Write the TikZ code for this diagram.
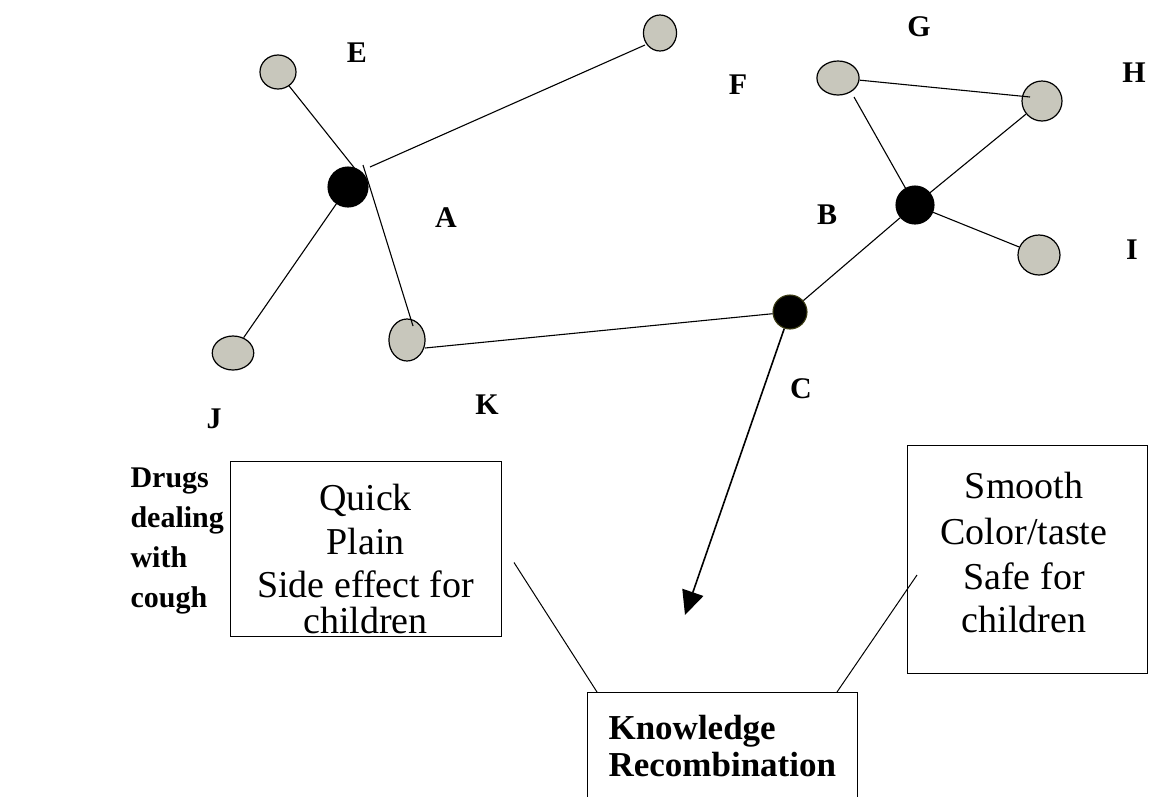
\documentclass[tikz,border=0pt]{standalone}
\usepackage{fontspec}
\setmainfont{Liberation Serif}
\usetikzlibrary{arrows.meta}
\definecolor{nodegray}{RGB}{200,199,188}
\definecolor{olive}{RGB}{60,60,20}
\begin{document}
\begin{tikzpicture}[x=1pt,y=-1pt,
  every path/.style={line width=1.1pt},
  grayn/.style={draw=black, fill=nodegray, shape=circle, inner sep=0pt, line width=1.2pt},
  hub/.style={circle, fill=black, draw=black, inner sep=0pt},
  lbl/.style={font=\fontsize{30}{32}\selectfont\bfseries, inner sep=0pt},
  box/.style={draw=black, line width=1pt, inner sep=0pt},
  boxtext/.style={font=\fontsize{38}{44}\selectfont, align=center, inner sep=0pt},
  krtext/.style={font=\fontsize{35}{37}\selectfont\bfseries, align=left, anchor=base west, inner sep=0pt},
]
\useasboundingbox (0,0) rectangle (1160,796);
% gray nodes
\node[grayn, minimum size=34pt, xscale=1.06] (E) at (278,72) {};
\node[grayn, minimum size=36pt, xscale=0.92] (F) at (660,33) {};
\node[grayn, minimum size=34pt, xscale=1.22] (J) at (233,353) {};
\node[grayn, minimum size=42pt, xscale=0.86] (K) at (407,340) {};
\node[grayn, minimum size=34pt, xscale=1.24] (G) at (838,78) {};
\node[grayn, minimum size=40pt] (H) at (1042,101) {};
\node[grayn, minimum size=40pt, xscale=1.05] (I) at (1039,255) {};
\node[hub, minimum size=40pt] (A) at (348,187) {};
\node[hub, minimum size=38pt] (B) at (915,205) {};
\node[hub, draw=olive, minimum size=34pt] (C) at (790,312) {};

% labels
\node[lbl] (lE) at (357,53) {E};
\node[lbl] (lF) at (738,85) {F};
\node[lbl] (lA) at (446,218) {A};
\node[lbl] (lB) at (827,215) {B};
\node[lbl] (lG) at (919,27) {G};
\node[lbl] (lH) at (1134,73) {H};
\node[lbl] (lI) at (1132,250) {I};
\node[lbl] (lJ) at (214,419) {J};
\node[lbl] (lK) at (487,405) {K};
\node[lbl] (lC) at (801,389) {C};

% edges
\draw (E) -- ([shift={(8,-17)}]A.center);
\draw ([shift={(22,-20)}]A.center) -- ([shift={(-15,12)}]F.center);
\draw ([shift={(15,-22)}]A.center) -- ([shift={(6,-14)}]K.center);
\draw (A) -- (J);
\draw ([shift={(18,8)}]K.center) -- (C);
\draw (C) -- (B);
\draw (B) -- ([shift={(16,19)}]G.center);
\draw (G) -- ([shift={(-12,-4)}]H.center);
\draw (B) -- (H);
\draw (B) -- (I);
\coordinate (tip) at (685,615);
\draw[-{Triangle[length=24pt,width=22pt]}, line width=1.6pt] (C) -- (tip);

% boxes
\draw[box] (230,461) rectangle (501,636);
\node[boxtext] (Lbox) at (365.5,548.5) {};
\node[boxtext, anchor=base] (q) at (365.5,510) {Quick};
\node[boxtext, anchor=base] (p) at (365.5,554) {Plain};
\node[boxtext, anchor=base] (s) at (365.5,597) {Side effect for};
\node[boxtext, anchor=base] (c1) at (365.5,633) {children};

\draw[box] (907,445) rectangle (1147,673);
\node[boxtext] (Rbox) at (1027,559) {};
\node[boxtext, anchor=base] (sm) at (1024,498) {Smooth};
\node[boxtext, anchor=base] (ct) at (1024,544) {Color/taste};
\node[boxtext, anchor=base] (sf) at (1024,589) {Safe for};
\node[boxtext, anchor=base] (c2) at (1024,632) {children};

\draw[box] (587,692) rectangle (857,810);
\node[inner sep=0pt] (KR) at (722,692) {};
\node[krtext] (kn) at (608,739) {Knowledge};
\node[krtext] (rc) at (608,776) {Recombination};

\draw[line width=1pt] ([shift={(148.5,14)}]Lbox.center) -- ([shift={(-125,0)}]KR.center);
\draw[line width=1pt] ([shift={(-110,16)}]Rbox.center) -- ([shift={(115,0)}]KR.center);

% side text
\node[font=\fontsize{30}{40}\selectfont\bfseries, align=left, anchor=north west, inner sep=0pt] (drugs) at (130,467) {Drugs\\dealing\\with\\cough};
\end{tikzpicture}
\end{document}
